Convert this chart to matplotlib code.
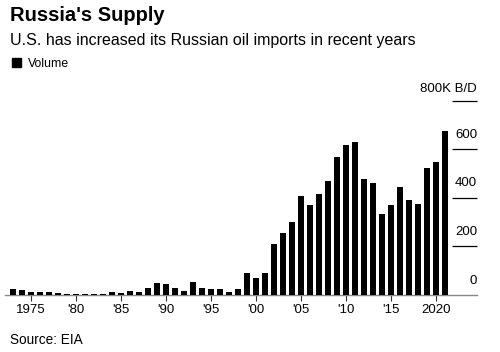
import matplotlib.pyplot as plt
import numpy as np

plt.rcParams['font.family'] = ['Liberation Sans', 'DejaVu Sans']

# US imports of Russian oil, thousand barrels per day
years = np.arange(1973, 2022)
volume = [23, 19, 10, 10, 10, 6, 2, 1, 2, 1, 1, 10, 6, 15, 10, 28, 49, 45, 28, 15,
          53, 28, 23, 23, 10, 23, 87, 69, 89, 208, 254, 300, 408, 371, 413, 469,
          565, 615, 627, 476, 459, 330, 371, 443, 389, 375, 523, 545, 674]
tick_years = [1975, 1980, 1985, 1990, 1995, 2000, 2005, 2010, 2015, 2020]
tick_labels = ['1975', "'80", "'85", "'90", "'95", "'00", "'05", "'10", "'15", '2020']
y_ticks = [200, 400, 600]

W, H = 500, 352
fig = plt.figure(figsize=(W / 100, H / 100), dpi=100)

# axes in pixel terms: left 5, right 477, baseline 294.5, 800 at 100.5
left, right, bottom, top = 5, 477, 294.5, 100.5
ax = fig.add_axes([left / W, 1 - bottom / H, (right - left) / W, (bottom - top) / H])

ax.bar(years, volume, width=0.66, color='black', zorder=3)
ax.set_xlim(1972.11, 2024.5)
ax.set_ylim(0, 800)

for s in ['top', 'right', 'left']:
    ax.spines[s].set_visible(False)
ax.spines['bottom'].set_color('#888888')
ax.spines['bottom'].set_linewidth(1.0)
ax.set_yticks([])
ax.set_xticks(tick_years)
ax.set_xticklabels(tick_labels, fontsize=9.5)
ax.tick_params(axis='x', length=4, width=0.8, color='#333333', pad=3)

# value scale drawn on the right, labels sitting above short rules
x0 = (452 - left) / (right - left)
ax.hlines(y_ticks + [800], x0, 1.0, transform=ax.get_yaxis_transform(),
          color='black', linewidth=0.9, clip_on=False)
for v in [0] + y_ticks:
    ax.annotate(str(v), xy=(1.0, v), xycoords=('axes fraction', 'data'),
                xytext=(0, 8), textcoords='offset pixels',
                ha='right', va='bottom', fontsize=9.5)
ax.annotate('800K B/D', xy=(1.0, 800), xycoords=('axes fraction', 'data'),
            xytext=(0, 6), textcoords='offset pixels',
            ha='right', va='bottom', fontsize=9.5)

fig.text(10 / W, 1 - 20.7 / H, "Russia's Supply", fontsize=14.5,
         fontweight='bold', va='baseline', ha='left')
fig.text(10 / W, 1 - 45 / H, "U.S. has increased its Russian oil imports in recent years",
         fontsize=11.5, va='baseline', ha='left')
fig.patches.append(plt.Rectangle((12 / W, 1 - 67 / H), 9 / W, 9 / H,
                                 transform=fig.transFigure, color='black'))
fig.text(28 / W, 1 - 66.7 / H, "Volume", fontsize=8.8, va='baseline', ha='left')
fig.text(10 / W, 1 - 344 / H, "Source: EIA", fontsize=9.8, va='baseline', ha='left')

fig.savefig('out.png', dpi=100)
